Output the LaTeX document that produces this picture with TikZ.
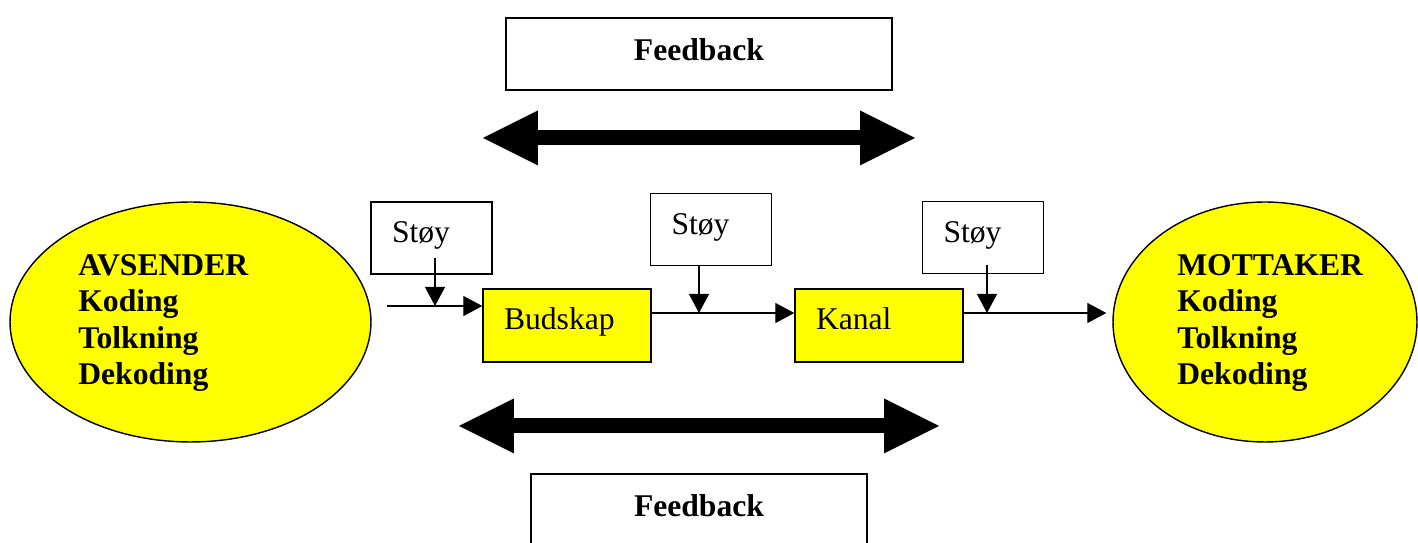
\documentclass[tikz,border=0pt]{standalone}
\usepackage{fontspec}
\setmainfont{Liberation Serif}
\usetikzlibrary{arrows.meta,shapes.geometric}
\definecolor{partyyellow}{RGB}{255,255,0}

\tikzset{
    party/.style={ellipse, draw, fill=partyyellow, line width=0.8pt, inner sep=0pt},
    partytext/.style={anchor=west, align=left, inner sep=0pt, font=\fontsize{18}{20.8}\selectfont\bfseries},
    stoybox/.style={draw, line width=0.8pt, align=left, text width=1.58cm, inner xsep=0.42cm, inner ysep=0pt,
        text height=0.82cm, text depth=0.62cm, font=\fontsize{18}{20.8}\selectfont},
    msgbox/.style={draw, fill=partyyellow, line width=0.8pt, align=left, text width=2.52cm, inner xsep=0.42cm, inner ysep=0pt,
        text height=0.82cm, text depth=0.64cm, font=\fontsize{18}{20.8}\selectfont},
    fbbox/.style={draw, line width=0.8pt, align=center, inner xsep=0pt, inner ysep=0pt,
        text height=0.86cm, text depth=0.58cm, font=\fontsize{18}{20.8}\selectfont\bfseries},
    sig/.style={line width=0.7pt, -{Triangle[length=0.38cm, width=0.4cm]}},
    fbarrow/.style={line width=0.3cm, {Triangle[length=1.1cm, width=1.1cm, line width=0pt]}-{Triangle[length=1.1cm, width=1.1cm, line width=0pt]}}
}

\begin{document}
\begin{tikzpicture}[x=0.02cm, y=-0.02cm]
    \useasboundingbox (0,0) rectangle (1418,543);

    \node[fbbox, text width=7.72cm] (fbtop) at (699, 54) {Feedback};
    \node[fbbox, text width=6.72cm] (fbbot) at (699,510) {Feedback};

    \node[party, minimum width=7.22cm, minimum height=4.8cm] (avs) at (190.5,322) {};
    \node[partytext] (avstext) at (78,323) {AVSENDER\\Koding\\Tolkning\\Dekoding};
    \node[party, minimum width=6.08cm, minimum height=4.8cm] (mot) at (1265,322) {};
    \node[partytext] (mottext) at (1177,323) {MOTTAKER\\Koding\\Tolkning\\Dekoding};

    \node[stoybox] (s1) at (431.5,238) {Støy};
    \node[stoybox] (s2) at (711,229.5) {Støy};
    \node[stoybox] (s3) at (983,237.5) {Støy};

    \node[msgbox] (bud) at (567,325.5) {Budskap};
    \node[msgbox] (kan) at (879,325.5) {Kanal};

    \coordinate (inn) at (387,306);
    \coordinate (n1)  at (435,258);
    \coordinate (n2)  at (699,266);
    \coordinate (j2)  at (699,313);
    \coordinate (n3)  at (987,265);
    \coordinate (j3)  at (987,313);

    \draw[sig] (inn) -- (inn -| bud.west);
    \draw[sig] (n1) -- (n1 |- inn);
    \draw[sig] (j2 -| bud.east) -- (j2 -| kan.west);
    \draw[sig] (n2) -- (j2);
    \draw[sig, shorten >=0.12cm] (j3 -| kan.east) -- (j3 -| mot.west);
    \draw[sig] (n3) -- (j3);

    % feedback both ways
    \coordinate (fa1) at (483,138);
    \coordinate (fa2) at (915,138);
    \coordinate (fb1) at (459,426);
    \coordinate (fb2) at (939,426);
    \draw[fbarrow] (fa1) -- (fa2);
    \draw[fbarrow] (fb1) -- (fb2);
\end{tikzpicture}
\end{document}
